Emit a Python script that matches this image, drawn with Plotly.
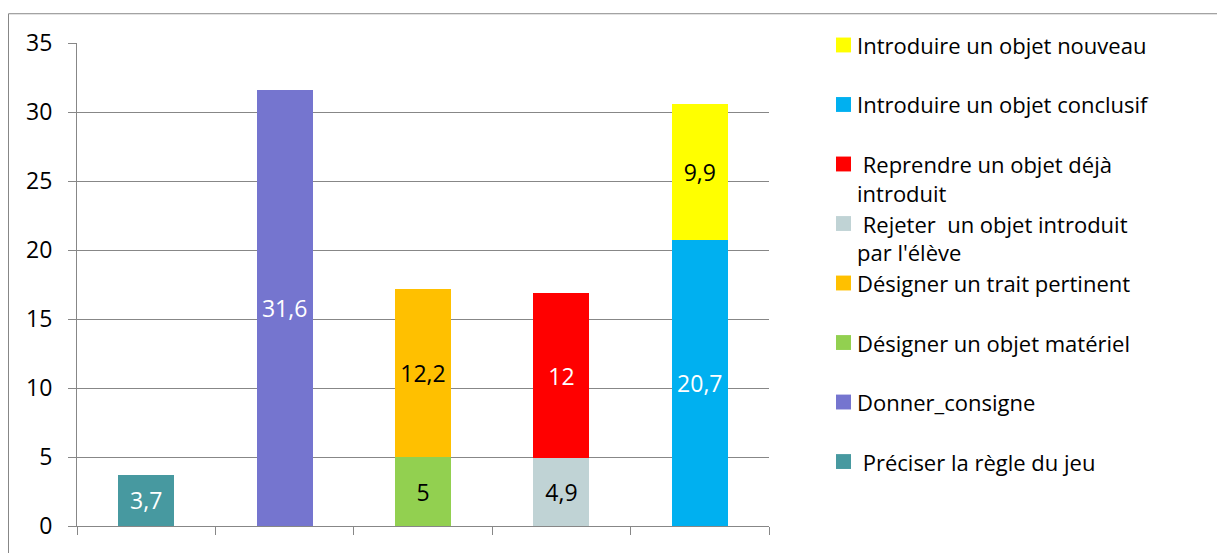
import plotly.graph_objects as go

# Chart data
groups = ["G1", "G2", "G3", "G4", "G5"]
series_names = [
    "Préciser la règle du jeu",
    "Donner_consigne",
    "Désigner un objet matériel",
    "Désigner un trait pertinent",
    "Rejeter  un objet introduit par l'élève",
    "Reprendre un objet déjà introduit",
    "Introduire un objet conclusif",
    "Introduire un objet nouveau",
]
series_group = ["G1", "G2", "G3", "G3", "G4", "G4", "G5", "G5"]
series_values = [3.7, 31.6, 5, 12.2, 4.9, 12, 20.7, 9.9]
series_colors = ["#4799A0", "#7575CF", "#92D050", "#FFC000",
                 "#C0D3D5", "#FF0000", "#00B0F0", "#FFFF00"]
label_colors = ["white", "white", "black", "black",
                "black", "white", "white", "black"]

# Legend entries, top to bottom (lines of each entry)
legend_lines = [
    ["Introduire un objet nouveau"],
    ["Introduire un objet conclusif"],
    ["\u00a0Reprendre un objet déjà", "introduit"],
    ["\u00a0Rejeter\u00a0 un objet introduit", "par l'élève"],
    ["Désigner un trait pertinent"],
    ["Désigner un objet matériel"],
    ["Donner_consigne"],
    ["\u00a0Préciser la règle du jeu"],
]
legend_colors = ["#FFFF00", "#00B0F0", "#FF0000", "#C0D3D5",
                 "#FFC000", "#92D050", "#7575CF", "#4799A0"]

y_ticks = [0, 5, 10, 15, 20, 25, 30, 35]

FONT = "Open Sans"
FS = 23
LEG_FS = 22
GRID = "#878787"

W, H = 1217, 553
ML, MR, MT, MB = 77, 448, 43, 23
PW, PH = W - ML - MR, H - MT - MB


def px(x):
    return (x - ML) / PW


def py(y):
    return (H - MB - y) / PH


fig = go.Figure()
for name, grp, val, col, lcol in zip(series_names, series_group, series_values,
                                      series_colors, label_colors):
    fig.add_trace(go.Bar(
        name=name,
        x=[grp],
        y=[val],
        marker=dict(color=col, line=dict(width=0)),
        text=[f"{val:g}".replace(".", ",")],
        textposition="inside",
        insidetextanchor="middle",
        textangle=0,
        constraintext="none",
        textfont=dict(family=FONT, size=FS, color=lcol),
        showlegend=False,
        hoverinfo="skip",
    ))

shapes = []
annotations = []

# Outer chart border
shapes.append(dict(type="rect", xref="paper", yref="paper",
                   x0=px(8.5), x1=px(W + 20), y0=py(13.5), y1=py(H + 20),
                   line=dict(color=GRID, width=1), fillcolor="rgba(0,0,0,0)",
                   layer="below"))

# Hand-built legend
sw = 15
text_x = 856
for i, (lines, col) in enumerate(zip(legend_lines, legend_colors)):
    yc = 45 + 60 * i
    shapes.append(dict(type="rect", xref="paper", yref="paper",
                       x0=px(836), x1=px(836 + sw),
                       y0=py(yc + sw / 2), y1=py(yc - sw / 2),
                       fillcolor=col, line=dict(width=0)))
    for j, line in enumerate(lines):
        annotations.append(dict(
            xref="paper", yref="paper", x=px(text_x), y=py(yc + 29 * j),
            xanchor="left", yanchor="middle", showarrow=False,
            borderpad=0,
            text=line, font=dict(family=FONT, size=LEG_FS, color="black"),
        ))

fig.update_layout(
    width=W, height=H,
    margin=dict(l=ML, r=MR, t=MT, b=MB),
    paper_bgcolor="white", plot_bgcolor="white",
    barmode="stack",
    bargap=0.595,
    font=dict(family=FONT, size=FS, color="black"),
    shapes=shapes,
    annotations=annotations,
    xaxis=dict(
        type="category",
        categoryorder="array", categoryarray=groups,
        range=[-0.5, len(groups) - 0.5],
        showticklabels=False,
        tickson="boundaries",
        ticks="outside", ticklen=8, tickcolor=GRID, tickwidth=1,
        showline=True, linecolor=GRID, linewidth=1,
        showgrid=False, zeroline=False,
    ),
    yaxis=dict(
        range=[0, 35],
        tickvals=y_ticks,
        ticks="outside", ticklen=8, tickcolor=GRID, tickwidth=1,
        ticklabelstandoff=11,
        showline=True, linecolor=GRID, linewidth=1,
        showgrid=True, gridcolor=GRID, gridwidth=1,
        zeroline=False,
        tickfont=dict(family=FONT, size=FS, color="black"),
    ),
)

fig.write_html("out.html")
